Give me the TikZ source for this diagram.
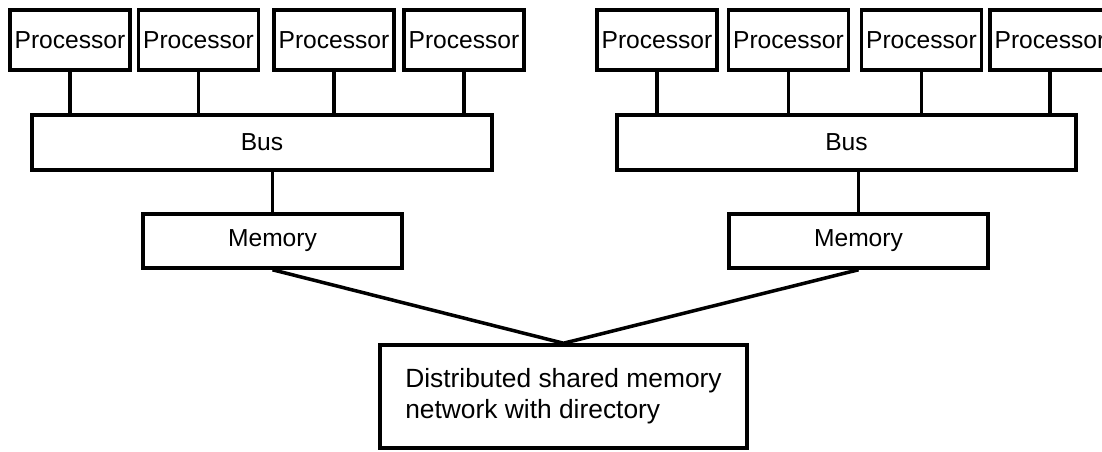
\documentclass[tikz,border=0pt]{standalone}
\usepackage{fontspec}
\setmainfont{Liberation Sans}
\usepackage{tikz}

\tikzset{
  unitbox/.style={draw, line width=2pt, fill=white, inner sep=0pt,
    font=\fontsize{14}{17}\selectfont},
  procbox/.style={unitbox, minimum width=2.4cm, minimum height=1.2cm},
  busbox/.style={unitbox, minimum width=9.2cm, minimum height=1.1cm},
  membox/.style={unitbox, minimum width=5.18cm, minimum height=1.08cm},
  wire/.style={line width=2pt}
}

\begin{document}
\begin{tikzpicture}
    % picture frame, same proportions as the original
    \clip (0,0) rectangle (22.04,-9.04);

    % left node: four processors on one bus
    \node[procbox] (pa) at (1.40,-0.80) {Processor};
    \node[procbox] (pb) at (3.97,-0.80) {Processor};
    \node[procbox] (pc) at (6.68,-0.80) {Processor};
    \node[procbox] (pd) at (9.28,-0.80) {Processor};
    \node[busbox] (busl) at (5.24,-2.85) {Bus};
    \node[membox] (meml) at (5.45,-4.82) {Memory};

    % right node: the same again
    \node[procbox] (pe) at (13.14,-0.80) {Processor};
    \node[procbox] (pf) at (15.77,-0.80) {Processor};
    \node[procbox] (pg) at (18.43,-0.80) {Processor};
    \node[procbox] (ph) at (21.00,-0.80) {Processor};
    \node[busbox, minimum width=9.18cm] (busr) at (16.93,-2.85) {Bus};
    \node[membox] (memr) at (17.17,-4.82) {Memory};

    % interconnect
    \node[unitbox, minimum width=7.34cm, minimum height=2.06cm, align=left,
      font=\fontsize{15}{17.5}\selectfont] (net) at (11.27,-7.93)
      {Distributed shared memory\\network with directory};

    % processors down to their bus
    \draw[wire] (pa.south) -- (pa.south |- busl.north);
    \draw[wire] (pb.south) -- (pb.south |- busl.north);
    \draw[wire] (pc.south) -- (pc.south |- busl.north);
    \draw[wire] (pd.south) -- (pd.south |- busl.north);
    \draw[wire] (pe.south) -- (pe.south |- busr.north);
    \draw[wire] (pf.south) -- (pf.south |- busr.north);
    \draw[wire] (pg.south) -- (pg.south |- busr.north);
    \draw[wire] (ph.south) -- (ph.south |- busr.north);

    % bus down to memory
    \draw[wire] (meml.north) -- (meml.north |- busl.south);
    \draw[wire] (memr.north) -- (memr.north |- busr.south);

    % both memories meet at the network
    \draw[wire] (meml.south) -- (net.north) -- (memr.south);
\end{tikzpicture}
\end{document}
